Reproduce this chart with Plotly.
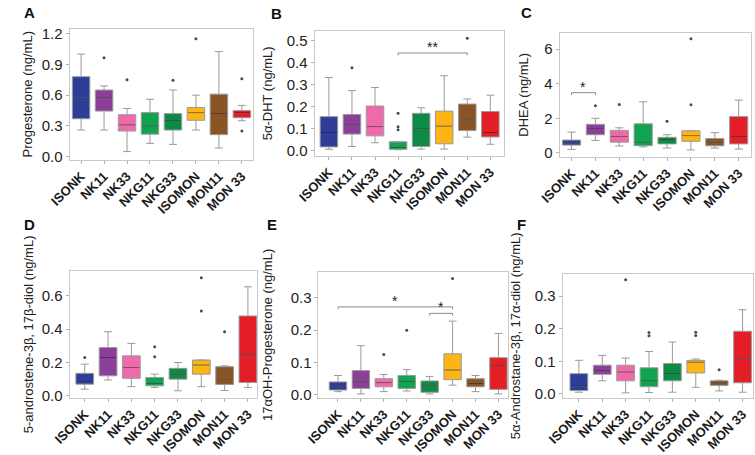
import plotly.graph_objects as go

categories = ["ISONK", "NK11", "NK33", "NKG11", "NKG33", "ISOMON", "MON11", "MON 33"]
colors = ["#2E3D98", "#8B3F98", "#EE6AAA", "#10A350", "#0E8A47", "#FDB515", "#8B5424", "#E41E26"]

# Panel A: Progesterone
prog_low = [0.26, 0.26, 0.05, 0.13, 0.12, 0.26, 0.085, 0.35]
prog_q1 = [0.37, 0.445, 0.25, 0.22, 0.26, 0.355, 0.215, 0.38]
prog_med = [0.57, 0.58, 0.31, 0.30, 0.355, 0.43, 0.42, 0.43]
prog_q3 = [0.78, 0.65, 0.41, 0.43, 0.42, 0.48, 0.61, 0.45]
prog_high = [1.0, 0.69, 0.47, 0.56, 0.65, 0.60, 1.025, 0.50]
prog_out_cat = ["NK11", "NK33", "NKG33", "ISOMON", "MON 33", "MON 33"]
prog_out_val = [0.965, 0.75, 0.745, 1.15, 0.76, 0.25]

# Panel B: 5a-DHT
dht_low = [0.007, 0.02, 0.037, 0.005, 0.008, 0.008, 0.062, 0.03]
dht_q1 = [0.018, 0.076, 0.068, 0.007, 0.02, 0.032, 0.092, 0.063]
dht_med = [0.083, 0.121, 0.11, 0.016, 0.10, 0.112, 0.14, 0.083]
dht_q3 = [0.155, 0.165, 0.203, 0.041, 0.17, 0.18, 0.212, 0.178]
dht_high = [0.332, 0.273, 0.287, 0.041, 0.195, 0.34, 0.235, 0.252]
dht_out_cat = ["NK11", "NKG11", "NKG11", "NKG11", "MON11"]
dht_out_val = [0.376, 0.17, 0.109, 0.096, 0.51]

# Panel C: DHEA
dhea_low = [0.2, 0.72, 0.4, 0.35, 0.28, 0.17, 0.28, 0.22]
dhea_q1 = [0.45, 1.05, 0.62, 0.42, 0.52, 0.67, 0.41, 0.52]
dhea_med = [0.58, 1.4, 0.95, 0.62, 0.78, 1.0, 0.62, 0.94]
dhea_q3 = [0.74, 1.65, 1.3, 1.68, 0.9, 1.28, 0.83, 2.1]
dhea_high = [1.2, 2.0, 1.45, 2.95, 1.05, 1.28, 1.17, 3.05]
dhea_out_cat = ["NK11", "NK33", "NKG33", "ISOMON", "ISOMON"]
dhea_out_val = [2.72, 2.8, 1.83, 6.6, 2.78]

# Panel D: 5-androstene-3b,17b-diol
adiol_low = [0.04, 0.095, 0.055, 0.05, 0.03, 0.055, 0.032, 0.05]
adiol_q1 = [0.07, 0.12, 0.105, 0.06, 0.1, 0.13, 0.068, 0.08]
adiol_med = [0.085, 0.23, 0.17, 0.075, 0.13, 0.185, 0.1, 0.25]
adiol_q3 = [0.135, 0.29, 0.24, 0.11, 0.165, 0.215, 0.175, 0.48]
adiol_high = [0.19, 0.385, 0.315, 0.13, 0.2, 0.215, 0.18, 0.655]
adiol_out_cat = ["ISONK", "NKG11", "NKG11", "ISOMON", "ISOMON", "MON11"]
adiol_out_val = [0.23, 0.295, 0.235, 0.71, 0.51, 0.385]

# Panel E: 17aOH-Progesterone
ohp_low = [0.01, 0.003, 0.01, 0.012, 0.003, 0.03, 0.01, 0.003]
ohp_q1 = [0.015, 0.02, 0.025, 0.02, 0.008, 0.047, 0.025, 0.017]
ohp_med = [0.028, 0.04, 0.038, 0.042, 0.03, 0.077, 0.035, 0.09]
ohp_q3 = [0.04, 0.075, 0.05, 0.06, 0.043, 0.127, 0.05, 0.115]
ohp_high = [0.06, 0.152, 0.063, 0.078, 0.057, 0.228, 0.06, 0.19]
ohp_out_cat = ["NK33", "NKG11", "ISOMON"]
ohp_out_val = [0.125, 0.2, 0.36]

# Panel F: 5a-Androstane-3b,17a-diol
adane_low = [0.005, 0.04, 0.003, 0.004, 0.005, 0.02, 0.009, 0.005]
adane_q1 = [0.01, 0.06, 0.04, 0.022, 0.04, 0.064, 0.026, 0.034]
adane_med = [0.025, 0.072, 0.067, 0.04, 0.062, 0.097, 0.034, 0.107]
adane_q3 = [0.062, 0.088, 0.088, 0.08, 0.093, 0.103, 0.04, 0.192]
adane_high = [0.103, 0.118, 0.11, 0.13, 0.159, 0.107, 0.042, 0.258]
adane_out_cat = ["NK33", "NKG11", "NKG11", "ISOMON", "ISOMON", "MON11"]
adane_out_val = [0.35, 0.188, 0.178, 0.189, 0.179, 0.074]

panel_titles = ["Progesterone (ng/mL)", "5\u03b1-DHT (ng/mL)", "DHEA (ng/mL)",
                "5-androstene-3\u03b2, 17\u03b2-diol (ng/mL)", "17\u03b1OH-Progesterone (ng/mL)",
                "5\u03b1-Androstane-3\u03b2, 17\u03b1-diol (ng/mL)"]
panel_letters = ["A", "B", "C", "D", "E", "F"]
panel_ticks = [[0, 0.3, 0.6, 0.9, 1.2], [0, 0.1, 0.2, 0.3, 0.4, 0.5], [0, 2, 4, 6],
               [0, 0.2, 0.4, 0.6], [0, 0.1, 0.2, 0.3], [0, 0.1, 0.2, 0.3]]
panel_tickfmt = ["{:.1f}", "{:.1f}", "{:.0f}", "{:.1f}", "{:.1f}", "{:.1f}"]

# significance brackets: (panel, from, to, y, drop, label)
brackets = [
    (1, "NKG11", "MON11", 0.443, 0.01, "**"),
    (2, "ISONK", "NK11", 3.48, 0.13, "*"),
    (4, "ISONK", "ISOMON", 0.272, 0.007, "*"),
    (4, "NKG33", "ISOMON", 0.252, 0.007, "*"),
]

stats = [
    (prog_low, prog_q1, prog_med, prog_q3, prog_high, prog_out_cat, prog_out_val),
    (dht_low, dht_q1, dht_med, dht_q3, dht_high, dht_out_cat, dht_out_val),
    (dhea_low, dhea_q1, dhea_med, dhea_q3, dhea_high, dhea_out_cat, dhea_out_val),
    (adiol_low, adiol_q1, adiol_med, adiol_q3, adiol_high, adiol_out_cat, adiol_out_val),
    (ohp_low, ohp_q1, ohp_med, ohp_q3, ohp_high, ohp_out_cat, ohp_out_val),
    (adane_low, adane_q1, adane_med, adane_q3, adane_high, adane_out_cat, adane_out_val),
]

# layout geometry (pixels)
W, H = 755, 455
px_x = [(50, 239), (302, 497), (554, 751), (50, 243), (306, 501), (557, 753)]
px_y = [(26, 162), (28, 158), (30, 159), (278, 410), (279, 410), (281, 410)]
x_ranges = [[-0.5, 7.5], [-0.62, 7.6], [-0.5, 7.52], [-0.65, 7.4], [-0.85, 7.42], [-0.7, 7.45]]
y_ranges = [[-0.028, 1.245], [-0.022, 0.543], [-0.22, 6.94], [-0.012, 0.75], [-0.009, 0.38], [-0.012, 0.368]]
title_standoff = [6, 11, 12, 5, 15, 11]
letter_pos = [(9, 9), (263, 10), (520, 9), (9, 230), (258, 230), (515, 230)]
BOXW = 0.76

FONT = "Liberation Sans, Arial, Helvetica, sans-serif"
FRAME = "#c9c9c9"
WHISK = "#9a9a9a"


def darker(hexc, f=0.62):
    r, g, b = int(hexc[1:3], 16), int(hexc[3:5], 16), int(hexc[5:7], 16)
    return "rgb({},{},{})".format(int(r * f), int(g * f), int(b * f))


fig = go.Figure()
shapes = []
for p, (lo, q1, med, q3, hi, ocat, oval) in enumerate(stats):
    suf = "" if p == 0 else str(p + 1)
    for i, cat in enumerate(categories):
        fig.add_trace(go.Box(
            x=[cat], q1=[q1[i]], median=[med[i]], q3=[q3[i]],
            lowerfence=[lo[i]], upperfence=[hi[i]],
            fillcolor=colors[i], line=dict(color=WHISK, width=1),
            width=BOXW, whiskerwidth=0.45, boxpoints=False,
            xaxis="x" + suf, yaxis="y" + suf, showlegend=False, hoverinfo="skip"))
        shapes.append(dict(type="line", xref="x" + suf, yref="y" + suf,
                           x0=i - BOXW / 2 + 0.03, x1=i + BOXW / 2 - 0.03, y0=med[i], y1=med[i],
                           line=dict(color=darker(colors[i]), width=1)))
    fig.add_trace(go.Scatter(
        x=ocat, y=oval, mode="markers",
        marker=dict(size=3, color="#4a4a4a"),
        xaxis="x" + suf, yaxis="y" + suf, showlegend=False, hoverinfo="skip"))

layout = dict(width=W, height=H, margin=dict(l=0, r=0, t=0, b=0),
              paper_bgcolor="white", plot_bgcolor="white",
              font=dict(family=FONT, color="#222222"), showlegend=False)
annotations = []
for p in range(6):
    suf = "" if p == 0 else str(p + 1)
    x0, x1 = px_x[p]
    y0, y1 = px_y[p]
    layout["xaxis" + suf] = dict(
        domain=[x0 / W, x1 / W], anchor="y" + suf, type="category",
        categoryorder="array", categoryarray=categories, range=x_ranges[p],
        tickangle=-45, tickfont=dict(size=13, family=FONT, color="#1a1a1a", weight="bold"),
        showline=True, mirror=True, linecolor=FRAME, linewidth=1,
        ticks="outside", ticklen=3, tickcolor="#b0b0b0", showgrid=False, zeroline=False)
    layout["yaxis" + suf] = dict(
        domain=[1 - y1 / H, 1 - y0 / H], anchor="x" + suf, range=y_ranges[p],
        tickvals=panel_ticks[p], ticktext=[panel_tickfmt[p].format(v) for v in panel_ticks[p]],
        tickfont=dict(size=15, family=FONT, color="#222222"),
        title=dict(text=panel_titles[p], font=dict(size=13, family=FONT, color="#222222"),
                   standoff=title_standoff[p]),
        showline=True, mirror=True, linecolor=FRAME, linewidth=1,
        ticks="outside", ticklen=3, tickcolor="#b0b0b0", showgrid=False, zeroline=False)
    lx, ly = letter_pos[p]
    annotations.append(dict(text="<b>" + panel_letters[p] + "</b>", x=lx / W, y=1 - ly / H,
                            xref="paper", yref="paper", showarrow=False,
                            font=dict(size=15, family=FONT, color="#111111"),
                            xanchor="center", yanchor="middle"))

for (p, ca, cb, yb, d, lab) in brackets:
    suf = "" if p == 0 else str(p + 1)
    ia, ib = categories.index(ca), categories.index(cb)
    ln = dict(color="#8a8a8a", width=1)
    shapes.append(dict(type="line", xref="x" + suf, yref="y" + suf, x0=ia, x1=ib, y0=yb, y1=yb, line=ln))
    shapes.append(dict(type="line", xref="x" + suf, yref="y" + suf, x0=ia, x1=ia, y0=yb, y1=yb - d, line=ln))
    shapes.append(dict(type="line", xref="x" + suf, yref="y" + suf, x0=ib, x1=ib, y0=yb, y1=yb - d, line=ln))
    annotations.append(dict(text=lab, x=(ia + ib) / 2, y=yb, xref="x" + suf, yref="y" + suf,
                            showarrow=False, yanchor="bottom", yshift=-4,
                            font=dict(size=14, family=FONT, color="#222222")))

layout["annotations"] = annotations
layout["shapes"] = shapes
fig.update_layout(**layout)
fig.write_html("out.html", config={"displayModeBar": False},
               post_script="document.body.style.margin='0';document.body.style.overflow='hidden';")
